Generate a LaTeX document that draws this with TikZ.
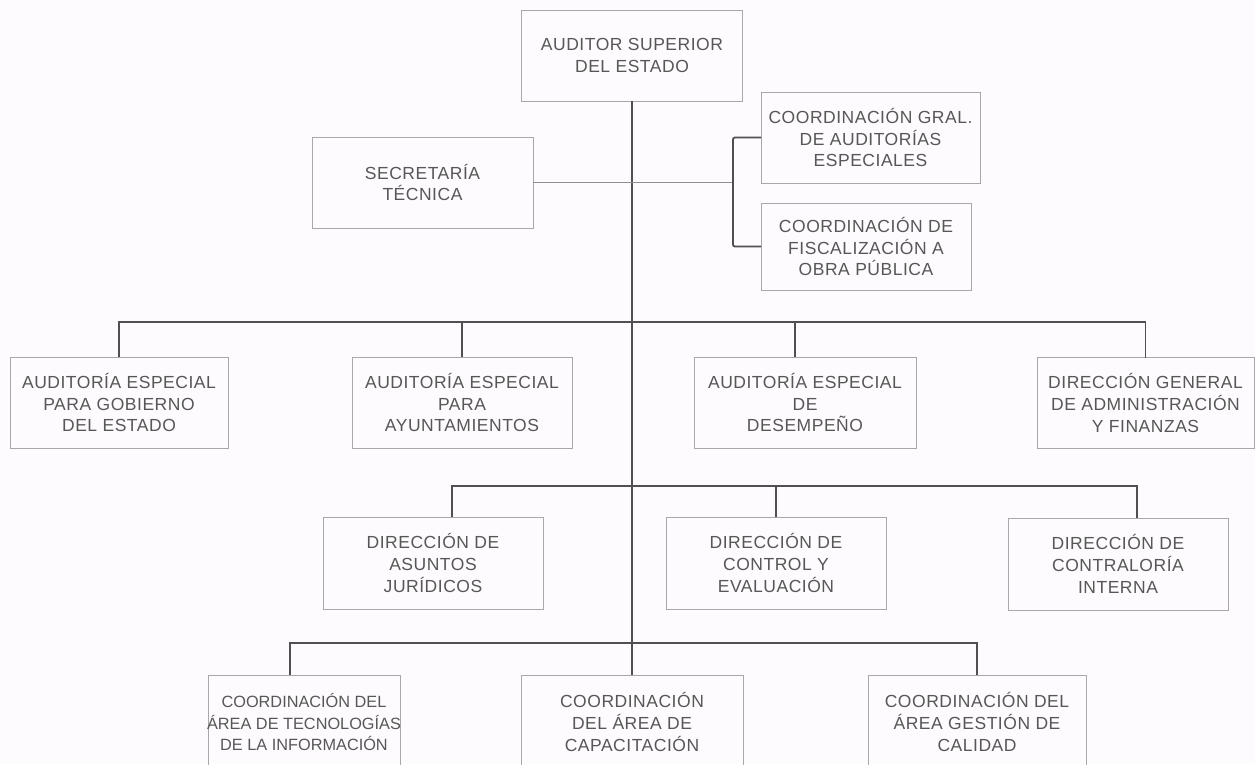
\documentclass[tikz,border=0pt]{standalone}
\usepackage{fontspec}
\setmainfont[LetterSpace=3]{Liberation Sans}
\newfontfamily\hfont{Liberation Sans}
\usetikzlibrary{calc}
\definecolor{bgcol}{HTML}{FDFBFD}
\definecolor{txtcol}{HTML}{575757}
\definecolor{conncol}{HTML}{505050}
\definecolor{boxcol}{HTML}{A8A8A8}
\begin{document}
\begin{tikzpicture}[x=1pt,y=-1pt,
  box/.style={draw=boxcol, line width=0.9pt, align=center, text=txtcol,
    font=\fontsize{17.5}{21.7}\selectfont, inner sep=0pt, outer sep=0pt},
  bsize/.style 2 args={minimum width=#1pt, minimum height=#2pt},
  conn/.style={draw=conncol, line width=1.8pt},
  thinline/.style={draw=boxcol!85!black, line width=1pt}]
\useasboundingbox (0,0) rectangle (1255,764);
\fill[bgcol] (0,0) rectangle (1255,764);

% nodes
\node[box,bsize={221}{91}] (top) at (632,55.5) {AUDITOR SUPERIOR\\DEL ESTADO};
\node[box,bsize={221}{91}] (sec) at (422.5,182.5) {SECRETARÍA\\TÉCNICA};
\node[box,bsize={219}{91}] (cg) at (870.5,137.5) {COORDINACIÓN GRAL.\\DE AUDITORÍAS\\ESPECIALES};
\node[box,bsize={210}{87}] (cf) at (866,246.5) {COORDINACIÓN DE\\FISCALIZACIÓN A\\OBRA PÚBLICA};

\node[box,bsize={218}{91}] (A) at (119,402.5) {AUDITORÍA ESPECIAL\\PARA GOBIERNO\\DEL ESTADO};
\node[box,bsize={220}{91}] (B) at (462,402.5) {AUDITORÍA ESPECIAL\\PARA\\AYUNTAMIENTOS};
\node[box,bsize={222}{91}] (C) at (805,402.5) {AUDITORÍA ESPECIAL\\DE\\DESEMPEÑO};
\node[box,bsize={217}{91}] (D) at (1145.5,403) {DIRECCIÓN GENERAL\\DE ADMINISTRACIÓN\\Y FINANZAS};

\node[box,bsize={220}{92}] (E) at (433,563) {DIRECCIÓN DE\\ASUNTOS\\JURÍDICOS};
\node[box,bsize={220}{92}] (F) at (776,563) {DIRECCIÓN DE\\CONTROL Y\\EVALUACIÓN};
\node[box,bsize={220}{92}] (G) at (1118,564) {DIRECCIÓN DE\\CONTRALORÍA\\INTERNA};

\node[box,bsize={192}{94},inner xsep=-2pt,font=\hfont\fontsize{16.3}{21.7}\selectfont] (H) at (304,722) {COORDINACIÓN DEL\\ÁREA DE TECNOLOGÍAS\\DE LA INFORMACIÓN};
\node[box,bsize={222}{94}] (I) at (632,722) {COORDINACIÓN\\DEL ÁREA DE\\CAPACITACIÓN};
\node[box,bsize={218}{94}] (J) at (977,722) {COORDINACIÓN DEL\\ÁREA GESTIÓN DE\\CALIDAD};

% helper coordinates
\coordinate (b1) at (632,322);
\coordinate (b2) at (632,486);
\coordinate (b3) at (632,643);
\coordinate (brk) at (733,182.5);
\coordinate (cN) at ($(C.north)+(-10,0)$);
\coordinate (eN) at ($(E.north)+(19,0)$);
\coordinate (gN) at ($(G.north)+(19,0)$);
\coordinate (hN) at ($(H.north)+(-14,0)$);

% connectors
\draw[conn] (top.south) -- (I.north);
\draw[thinline] (sec.east) -- (brk);
\draw[conn, rounded corners=2pt] (cg.west) -| (brk) |- (cf.west);

\draw[conn] (A.north) -- (A.north |- b1) -- (D.north |- b1) -- (D.north);
\draw[conn] (B.north) -- (B.north |- b1);
\draw[conn] (cN) -- (cN |- b1);

\draw[conn] (eN) -- (eN |- b2) -- (gN |- b2) -- (gN);
\draw[conn] (F.north) -- (F.north |- b2);

\draw[conn] (hN) -- (hN |- b3) -- (J.north |- b3) -- (J.north);
\end{tikzpicture}
\end{document}
